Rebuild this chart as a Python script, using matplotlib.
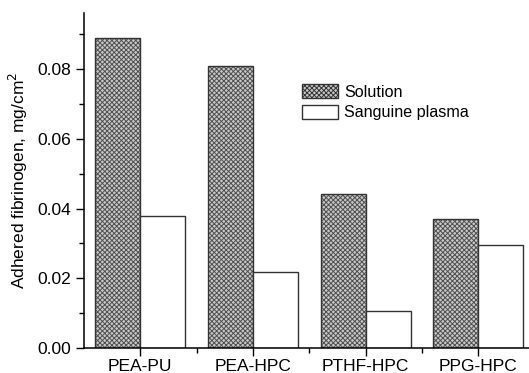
import matplotlib
matplotlib.use('Agg')
import matplotlib.pyplot as plt
from matplotlib.patches import Patch
import numpy as np

plt.rcParams['font.family'] = ['Liberation Sans', 'DejaVu Sans']
plt.rcParams['hatch.linewidth'] = 0.7

# adhered fibrinogen, mg/cm2
polymers = ['PEA-PU', 'PEA-HPC', 'PTHF-HPC', 'PPG-HPC']
solution = [0.0888, 0.0810, 0.0442, 0.0370]
plasma = [0.0380, 0.0219, 0.0107, 0.0296]

fig = plt.figure(figsize=(5.29, 3.73), dpi=100)
ax = fig.add_axes([84/529, 25/373, 450.5/529, 335/373])

x = np.arange(len(polymers))
w = 0.4
fill = '#c8c8c8'
hatch = 'xxxxxxx'
# hatched fill first, outline on top
ax.bar(x - w/2, solution, w, color=fill, edgecolor='#505050', hatch=hatch, linewidth=0)
ax.bar(x - w/2, solution, w, facecolor='none', edgecolor='#333333', linewidth=1.0)
ax.bar(x + w/2, plasma, w, facecolor='white', edgecolor='#333333', linewidth=1.0)

ax.set_xlim(-0.5, 3.5)
ax.set_ylim(0, 0.0961)
ax.set_xticks(x)
ax.set_xticklabels(polymers)
ax.set_xticks(x[:-1] + 0.5, minor=True)
ax.set_yticks([0, 0.02, 0.04, 0.06, 0.08])
ax.set_yticklabels(['0.00', '0.02', '0.04', '0.06', '0.08'])
ax.set_yticks(np.arange(0.01, 0.095, 0.02), minor=True)
ax.tick_params(which='major', length=6, width=1, labelsize=12.5, direction='out')
ax.tick_params(axis='x', which='major', pad=2)
ax.tick_params(which='minor', length=3.5, width=1, direction='out')
ax.spines['top'].set_visible(False)
ax.spines['right'].set_visible(False)
for s in ('left', 'bottom'):
    ax.spines[s].set_linewidth(1.1)

ax.set_ylabel('Adhered fibrinogen, mg/cm$^2$', fontsize=12.5, labelpad=5)

# legend proxies so the hatch shows in the key
h1 = Patch(facecolor=fill, edgecolor='#333333', hatch=hatch, linewidth=1.0)
h2 = Patch(facecolor='white', edgecolor='#333333', linewidth=1.0)
ax.legend([h1, h2], ['Solution', 'Sanguine plasma'], loc='upper left',
          bbox_to_anchor=(0.47, 0.806), frameon=False, fontsize=11.6,
          handlelength=2.25, handleheight=0.95, handletextpad=0.35,
          labelspacing=0.3, borderaxespad=0)

fig.savefig('out.png', dpi=100)
